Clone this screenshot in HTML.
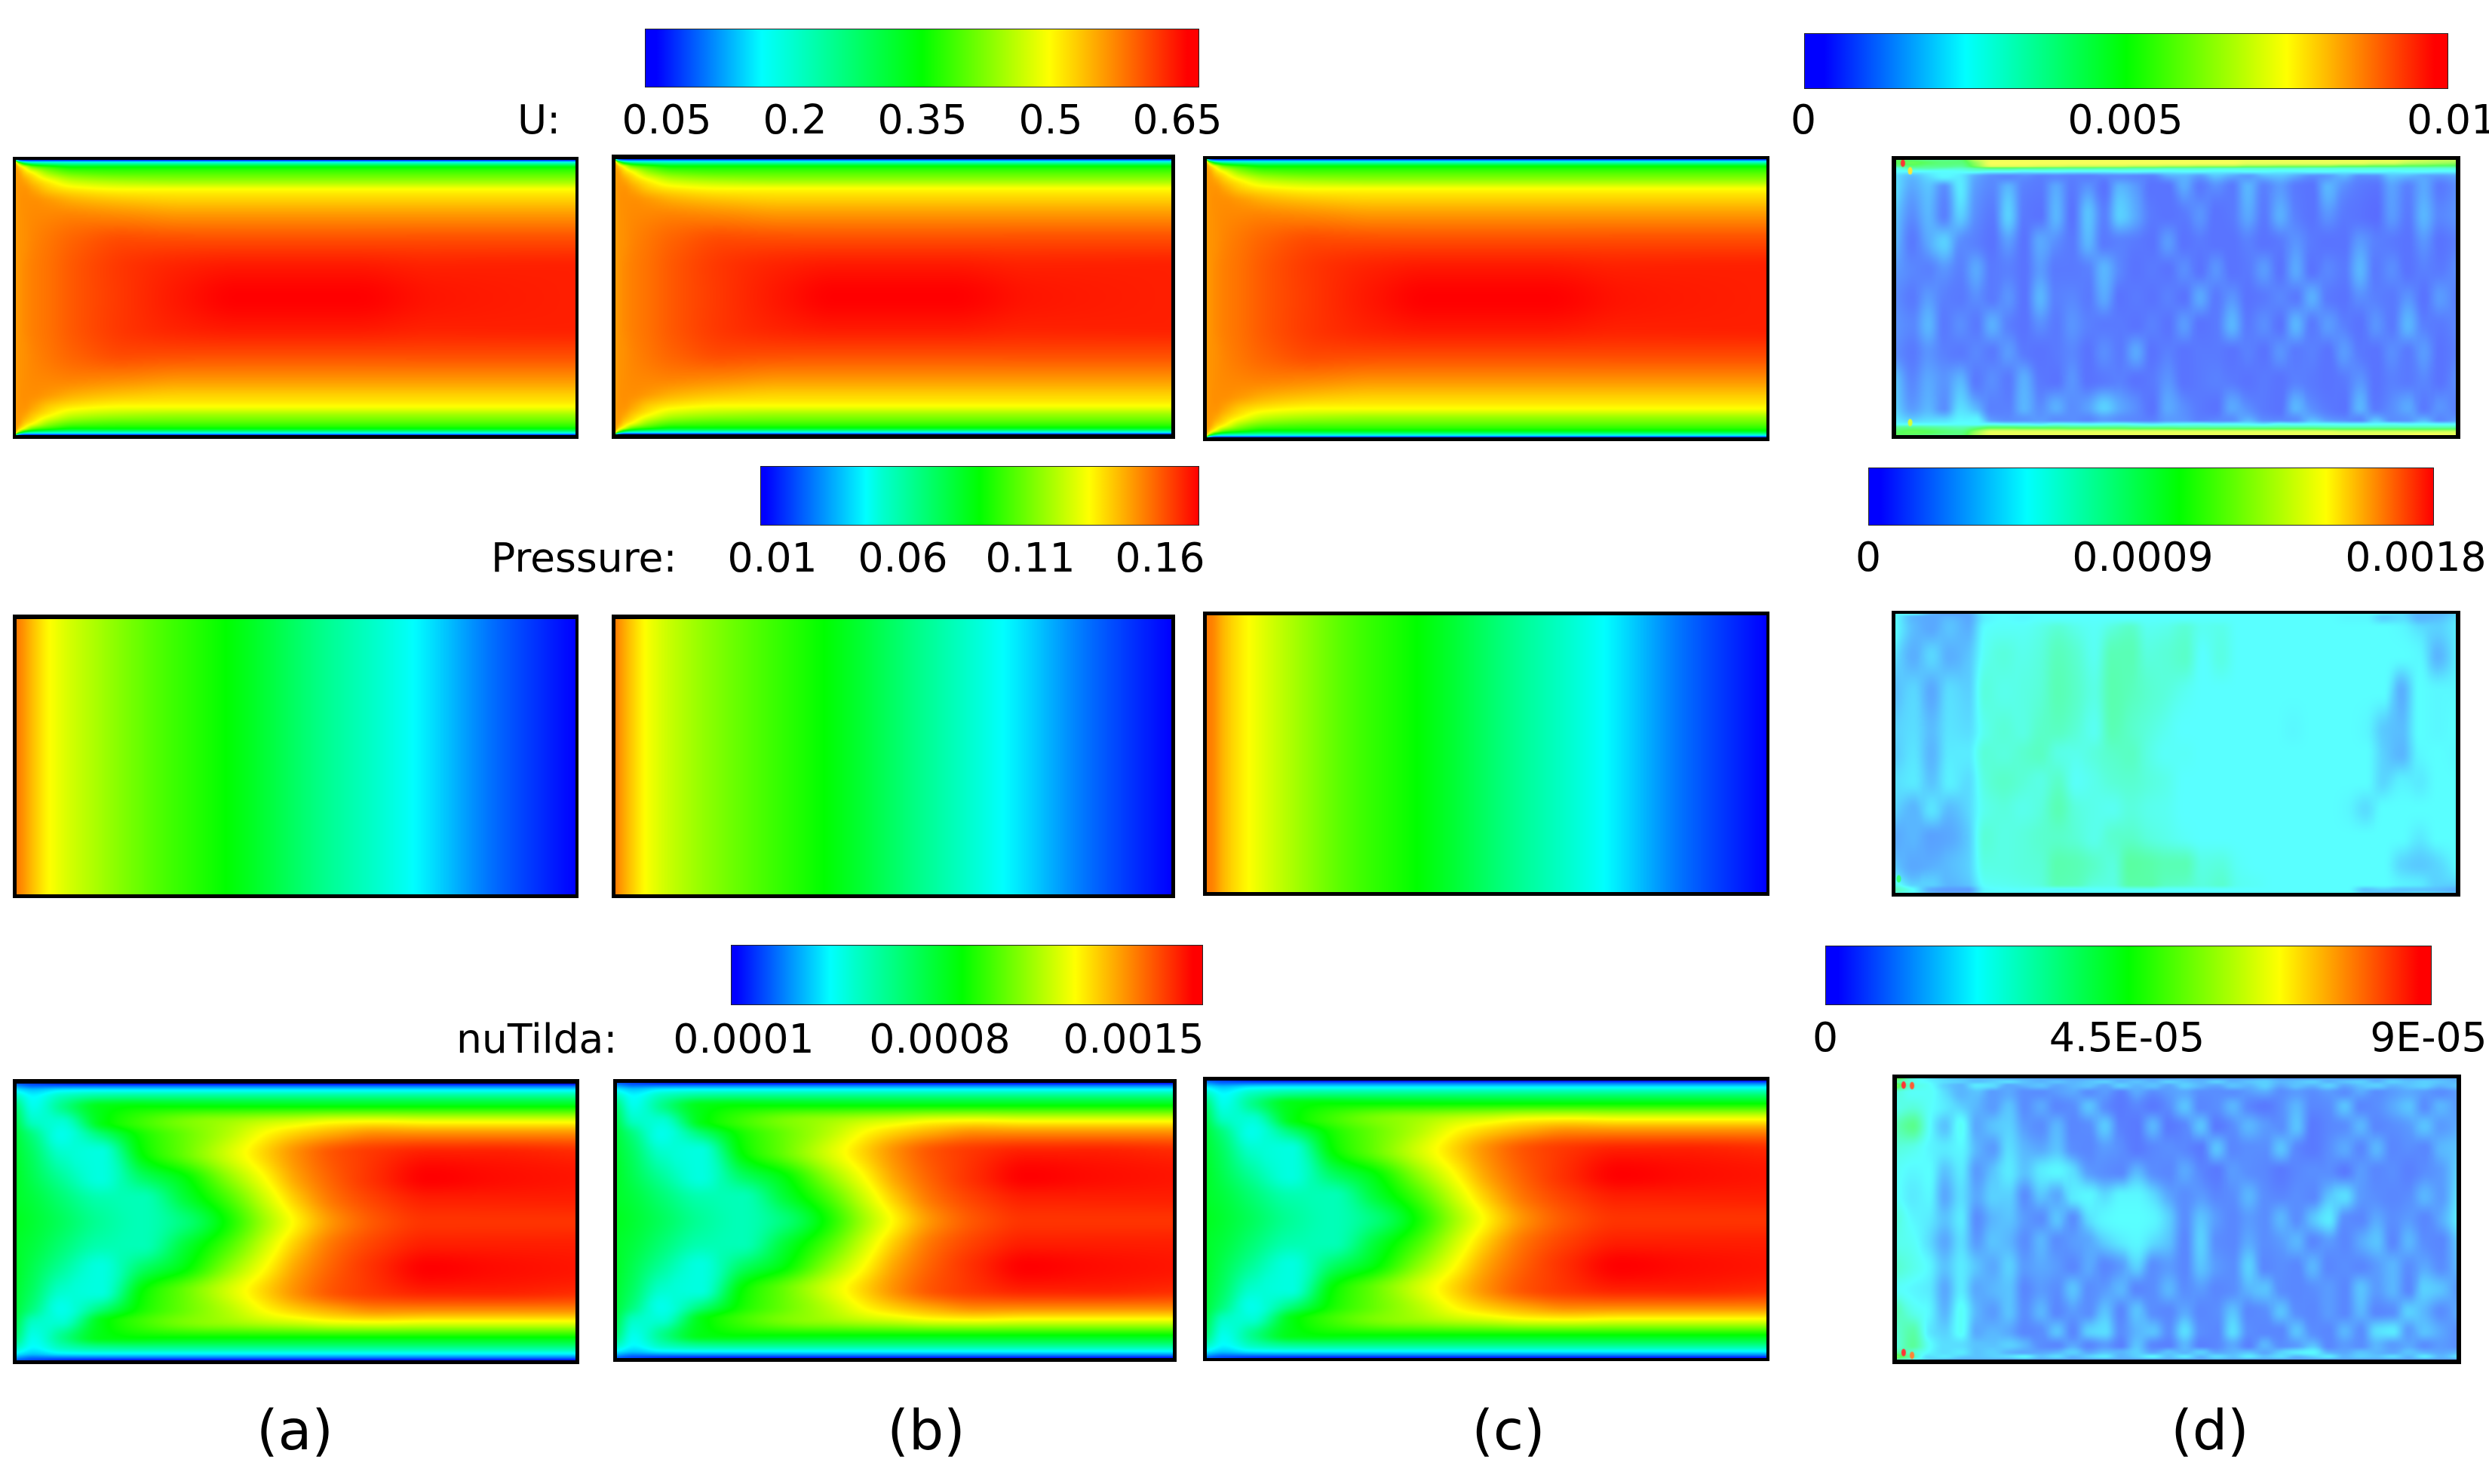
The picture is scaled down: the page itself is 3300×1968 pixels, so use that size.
<!DOCTYPE html>
<html lang="en">
<head>
<meta charset="utf-8">
<title>Flow field comparison: U, Pressure, nuTilda</title>
<style>
html,body{margin:0;padding:0;background:#fff;}
body{position:relative;width:3300px;height:1968px;overflow:hidden;}
canvas{position:absolute;display:block;border:0 solid #000;box-sizing:content-box;}
.bar{position:absolute;box-sizing:border-box;border:1px solid #222;}
svg{position:absolute;left:0;top:0;}
text{font-family:"DejaVu Sans","Liberation Sans",sans-serif;font-size:53.5px;fill:#000;}
.cap{font-size:73px;}
</style>
</head>
<body>

<!-- colour bars -->
<div class="bar" style="left:855px;top:38px;width:735px;height:78px;background:linear-gradient(90deg,#00f 2%,#00ffff 21%,#00ffcc 27%,#0f0 50%,#ff0 73%,#f00 98%)"></div>
<div class="bar" style="left:2392px;top:44px;width:854px;height:74px;background:linear-gradient(90deg,#00f 3%,#00ffff 25%,#0f0 50%,#ff0 75%,#f00 98%)"></div>
<div class="bar" style="left:1008px;top:618px;width:582px;height:79px;background:linear-gradient(90deg,#00f 1%,#00ffff 24%,#00ffcc 28%,#0f0 50%,#ff0 75%,#f00 100%)"></div>
<div class="bar" style="left:2477px;top:620px;width:750px;height:77px;background:linear-gradient(90deg,#00f 2%,#00ffff 28%,#0f0 55%,#ff0 81%,#f00 100%)"></div>
<div class="bar" style="left:969px;top:1253px;width:626px;height:80px;background:linear-gradient(90deg,#00f 1%,#00ffff 21%,#00ffcc 26%,#0f0 49%,#ff0 73%,#f00 98%)"></div>
<div class="bar" style="left:2420px;top:1254px;width:804px;height:79px;background:linear-gradient(90deg,#00f 2%,#00ffff 25%,#0f0 50%,#ff0 75%,#f00 98%)"></div>

<!-- row 1: U -->
<canvas id="u-a" width="742" height="365" style="left:17px;top:208px;border-width:4px 4px 5px 4px"></canvas>
<canvas id="u-b" width="737" height="365" style="left:811px;top:205px;border-width:6px 5px 6px 5px"></canvas>
<canvas id="u-c" width="742" height="369" style="left:1595px;top:207px;border-width:4px 4px 5px 5px"></canvas>
<canvas id="u-d" width="742" height="365" style="left:2508px;top:207px;border-width:5px 6px 5px 6px"></canvas>

<!-- row 2: Pressure -->
<canvas id="p-a" width="741" height="365" style="left:17px;top:815px;border-width:6px 4px 5px 5px"></canvas>
<canvas id="p-b" width="737" height="365" style="left:811px;top:815px;border-width:6px 5px 5px 5px"></canvas>
<canvas id="p-c" width="742" height="367" style="left:1595px;top:811px;border-width:5px 4px 5px 5px"></canvas>
<canvas id="p-d" width="743" height="370" style="left:2508px;top:810px;border-width:4px 6px 5px 5px"></canvas>

<!-- row 3: nuTilda -->
<canvas id="n-a" width="741" height="367" style="left:17px;top:1431px;border-width:6px 5px 5px 5px"></canvas>
<canvas id="n-b" width="737" height="365" style="left:813px;top:1431px;border-width:5px 5px 5px 5px"></canvas>
<canvas id="n-c" width="742" height="368" style="left:1595px;top:1428px;border-width:5px 4px 4px 5px"></canvas>
<canvas id="n-d" width="742" height="373" style="left:2509px;top:1425px;border-width:5px 6px 6px 6px"></canvas>

<svg width="3300" height="1968" viewBox="0 0 3300 1968">
  <text x="686" y="177">U:</text>
  <text x="884" y="177" text-anchor="middle">0.05</text>
  <text x="1054" y="177" text-anchor="middle">0.2</text>
  <text x="1223" y="177" text-anchor="middle">0.35</text>
  <text x="1393" y="177" text-anchor="middle">0.5</text>
  <text x="1561" y="177" text-anchor="middle">0.65</text>
  <text x="2391" y="177" text-anchor="middle">0</text>
  <text x="2818" y="177" text-anchor="middle">0.005</text>
  <text x="3191" y="177">0.01</text>

  <text x="651" y="758">Pressure:</text>
  <text x="1024" y="758" text-anchor="middle">0.01</text>
  <text x="1197" y="758" text-anchor="middle">0.06</text>
  <text x="1366" y="758" text-anchor="middle">0.11</text>
  <text x="1538" y="758" text-anchor="middle">0.16</text>
  <text x="2477" y="757" text-anchor="middle">0</text>
  <text x="2841" y="757" text-anchor="middle">0.0009</text>
  <text x="3203" y="757" text-anchor="middle">0.0018</text>

  <text x="605" y="1396">nuTilda:</text>
  <text x="986" y="1396" text-anchor="middle">0.0001</text>
  <text x="1246" y="1396" text-anchor="middle">0.0008</text>
  <text x="1503" y="1396" text-anchor="middle">0.0015</text>
  <text x="2420" y="1394" text-anchor="middle">0</text>
  <text x="2820" y="1394" text-anchor="middle">4.5E-05</text>
  <text x="3220" y="1394" text-anchor="middle">9E-05</text>

  <text class="cap" x="391" y="1922" text-anchor="middle">(a)</text>
  <text class="cap" x="1228" y="1922" text-anchor="middle">(b)</text>
  <text class="cap" x="2000" y="1922" text-anchor="middle">(c)</text>
  <text class="cap" x="2930" y="1922" text-anchor="middle">(d)</text>
</svg>

<script>
// Colour scale: fraction of the bar -> colour
const scaleStops = [0, 0.25, 0.5, 0.75, 1];
const scaleColors = [[0,0,255],[0,255,255],[0,255,0],[255,255,0],[255,0,0]];

// U: channel coordinates (x along channel, y across, both 0..1); values are fractions of the U colour bar
const uXs = [0,.006,.016,.03,.06,.105,.2,.3,.4,.5,.6,.75,1];
const uYs = [0,.004,.008,.015,.027,.05,.08,.108,.15,.21,.3,.4,.5,.6,.7,.79,.85,.895,.925,.955,.975,.987,.993,.997,1];
const uValues = [
[.3,.05,.02,0,0,0,0,0,0,0,0,0,0],
[.55,.2,.12,.12,.12,.12,.12,.12,.12,.12,.12,.12,.12],
[.75,.45,.3,.25,.25,.25,.25,.25,.25,.25,.25,.25,.25],
[.84,.68,.5,.42,.38,.36,.36,.36,.36,.36,.36,.36,.36],
[.85,.8,.73,.62,.55,.5,.5,.5,.5,.5,.5,.5,.5],
[.85,.84,.8,.76,.66,.6,.58,.58,.58,.58,.58,.58,.58],
[.85,.85,.84,.81,.76,.7,.67,.66,.66,.66,.66,.66,.66],
[.85,.855,.855,.84,.8,.77,.75,.75,.75,.75,.75,.75,.75],
[.85,.855,.86,.86,.85,.83,.81,.8,.8,.8,.8,.8,.8],
[.85,.855,.86,.865,.87,.875,.87,.86,.86,.86,.86,.86,.86],
[.85,.855,.86,.87,.885,.905,.93,.93,.93,.93,.93,.93,.93],
[.85,.855,.865,.875,.89,.915,.95,.97,.98,.98,.98,.97,.97],
[.85,.855,.865,.875,.89,.915,.95,.98,1,1,1,.98,.97],
[.85,.855,.865,.875,.89,.915,.95,.97,.98,.98,.98,.97,.97],
[.85,.855,.86,.87,.885,.905,.93,.93,.93,.93,.93,.93,.93],
[.85,.855,.86,.865,.87,.875,.87,.86,.86,.86,.86,.86,.86],
[.85,.855,.86,.86,.85,.83,.81,.8,.8,.8,.8,.8,.8],
[.85,.855,.855,.84,.8,.77,.75,.75,.75,.75,.75,.75,.75],
[.85,.85,.84,.81,.76,.7,.67,.66,.66,.66,.66,.66,.66],
[.85,.84,.8,.76,.66,.6,.58,.58,.58,.58,.58,.58,.58],
[.85,.8,.73,.62,.55,.5,.5,.5,.5,.5,.5,.5,.5],
[.84,.68,.5,.42,.38,.36,.36,.36,.36,.36,.36,.36,.36],
[.75,.45,.3,.25,.25,.25,.25,.25,.25,.25,.25,.25,.25],
[.55,.2,.12,.12,.12,.12,.12,.12,.12,.12,.12,.12,.12],
[.3,.05,.02,0,0,0,0,0,0,0,0,0,0]
];

// Pressure: values along x, fractions of the Pressure colour bar, one series per panel
const pXs = [0,.01,.03,.06,.15,.25,.375,.54,.71,.85,.97,1];
const pYs = [0,1];
const pressureA = [.88,.86,.81,.75,.66,.58,.5,.37,.25,.11,.02,0];
const pressureB = [.88,.85,.8,.74,.65,.58,.5,.37,.24,.11,.02,0];
const pressureC = [.88,.87,.82,.77,.67,.58,.5,.37,.25,.11,.02,0];

// nuTilda: values as fractions of the nuTilda colour bar
const nXs = [0,.03,.08,.15,.225,.3,.38,.45,.5,.57,.65,.74,.85,1];
const nYs = [0,.008,.025,.05,.083,.14,.185,.25,.34,.42,.5,.58,.667,.75,.815,.858,.917,.95,.975,.992,1];
const nuValues = [
[.08,.06,.03,.01,0,0,0,0,0,0,0,0,0,0],
[.14,.1,.1,.1,.1,.1,.1,.1,.1,.1,.1,.1,.1,.1],
[.24,.2,.24,.25,.25,.25,.25,.25,.25,.25,.25,.25,.25,.25],
[.32,.25,.32,.37,.38,.38,.38,.38,.38,.38,.38,.38,.38,.38],
[.38,.27,.36,.48,.5,.5,.5,.5,.5,.5,.5,.5,.5,.5],
[.42,.31,.29,.48,.56,.62,.66,.7,.72,.75,.76,.75,.75,.75],
[.44,.37,.27,.38,.52,.6,.68,.76,.8,.84,.87,.87,.87,.87],
[.45,.4,.3,.28,.5,.6,.71,.8,.86,.92,.95,.97,.97,.96],
[.46,.42,.35,.28,.4,.49,.64,.76,.84,.91,.96,1,.99,.98],
[.46,.44,.39,.33,.32,.44,.57,.71,.8,.89,.94,.97,.97,.97],
[.47,.45,.41,.35,.32,.38,.52,.67,.76,.86,.92,.95,.95,.95],
[.46,.44,.39,.33,.32,.44,.57,.71,.8,.89,.94,.97,.97,.97],
[.46,.42,.35,.28,.4,.49,.64,.76,.84,.91,.96,1,.99,.98],
[.45,.4,.3,.28,.5,.6,.71,.8,.86,.92,.95,.97,.97,.96],
[.44,.37,.27,.38,.52,.6,.68,.76,.8,.84,.87,.87,.87,.87],
[.42,.31,.29,.48,.56,.62,.66,.7,.72,.75,.76,.75,.75,.75],
[.38,.27,.36,.48,.5,.5,.5,.5,.5,.5,.5,.5,.5,.5],
[.32,.25,.32,.37,.38,.38,.38,.38,.38,.38,.38,.38,.38,.38],
[.24,.2,.24,.25,.25,.25,.25,.25,.25,.25,.25,.25,.25,.25],
[.14,.1,.1,.1,.1,.1,.1,.1,.1,.1,.1,.1,.1,.1],
[.08,.06,.03,.01,0,0,0,0,0,0,0,0,0,0]
];

// Error panels (d): percent of their colour bars, columns evenly spaced along x
const uErrYs = [0,.01,.024,.03,.042,.06,.1,.2,.3,.4,.5,.6,.7,.8,.9,.945,.96,.972,.99,1];
const uErrValues = [
[50,45,42,42,45,65,72,72,72,72,72,72,72,72,72,72,72,72,72,72,72,72,72,72,72,72,72,72,72,72,72,72,70,68,66,66],
[50,52,48,45,45,60,74,74,74,74,74,74,74,74,74,74,74,74,74,74,74,74,72,72,72,72,72,72,72,72,70,70,66,64,62,60],
[40,45,42,42,40,55,70,70,70,68,68,66,66,66,66,64,64,62,62,60,60,60,56,56,54,54,54,54,50,50,48,48,46,46,44,44],
[28,38,38,36,34,40,46,46,44,44,42,42,42,40,40,38,38,36,36,36,34,34,34,34,34,34,32,32,32,32,32,32,32,32,32,32],
[25,25,25,25,26,28,26,26,24,25,25,24,24,24,25,25,24,24,25,25,24,24,25,25,24,24,25,25,24,25,25,24,25,25,24,24],
[20,15,20,24,22,12,8,7,8,6,7,6,6,7,8,7,6,12,14,10,16,12,10,14,16,12,8,10,14,8,8,16,14,12,10,12],
[20,12,16,8,22,10,7,14,6,5,12,5,9,4,14,10,4,4,12,5,8,5,14,6,10,5,4,14,8,5,4,11,6,12,5,8],
[16,8,14,6,18,8,5,18,5,4,14,4,16,6,18,12,5,4,5,9,4,5,12,5,13,6,4,9,5,4,3,10,5,14,7,9],
[14,5,12,18,8,6,4,10,4,12,8,5,14,5,6,5,4,10,4,5,4,4,6,4,5,9,5,4,4,10,6,5,4,9,4,6],
[10,7,6,9,6,12,5,6,4,10,5,5,6,14,7,4,5,4,8,4,9,4,5,10,4,12,4,7,5,14,5,8,4,6,5,8],
[8,5,10,6,5,8,5,9,4,14,6,7,5,12,4,5,4,6,4,12,5,9,4,5,7,5,13,5,4,8,6,5,9,4,10,6],
[9,7,14,5,8,5,13,6,4,8,5,9,6,5,5,4,6,4,10,4,5,14,5,8,4,14,5,10,6,4,9,5,14,6,5,7],
[8,5,9,6,5,7,5,10,5,4,5,7,4,8,5,12,4,6,4,5,5,4,6,4,9,5,6,4,10,5,4,8,5,10,4,6],
[16,7,12,9,14,5,8,5,13,5,4,9,4,5,6,4,5,9,4,5,6,5,4,5,4,6,5,4,5,9,4,6,5,7,4,8],
[18,10,14,8,20,14,6,6,14,8,13,8,11,18,12,8,4,12,8,5,4,12,8,5,4,14,8,5,4,14,5,8,12,5,9,6],
[22,18,20,20,24,24,10,8,9,10,8,8,7,10,8,7,6,10,9,6,7,8,14,8,7,8,15,10,8,7,16,8,9,14,7,10],
[25,25,25,25,26,25,26,24,24,22,26,25,24,25,26,24,22,24,25,26,24,25,24,22,26,24,25,25,24,24,25,26,24,25,24,24],
[40,42,40,38,36,42,48,48,46,46,46,44,44,44,44,42,42,42,40,40,40,40,40,40,40,40,40,38,38,38,38,38,38,38,38,38],
[48,52,50,46,44,60,72,72,72,72,72,72,72,72,72,72,72,72,72,72,72,72,72,72,72,72,72,72,70,70,70,70,70,70,70,70],
[50,46,44,42,44,62,72,72,72,72,72,72,72,72,72,72,72,72,72,72,72,72,72,72,72,72,72,72,72,72,72,72,74,76,74,72]
];
const uErrHot = [[.012,.012,1],[.025,.04,.78],[.025,.955,.7]];

const pErrYs = [0,.012,.05,.15,.28,.42,.5,.6,.7,.8,.9,.97,.99,1];
const pErrValues = [
[25,24,14,11,12,24,25,25,25,25,25,25,25,25,25,25,25,25,25,25,25,25,25,25,25,25,25,22,20,14,14,18],
[25,14,12,14,12,23,25,24,25,25,25,25,25,25,25,25,25,25,25,25,25,25,25,25,25,24,24,18,20,14,15,20],
[25,15,12,16,13,25,26,26,28,31,28,26,30,33,27,28,31,27,28,25,25,25,25,25,25,25,25,25,24,20,18,22],
[20,13,19,13,16,27,30,28,30,35,32,27,36,36,30,31,33,25,29,25,25,25,25,25,25,25,25,25,25,24,14,22],
[15,19,12,20,18,30,28,29,31,36,33,29,37,35,32,30,27,25,25,25,25,25,25,25,25,25,25,25,13,25,24,24],
[18,20,15,21,20,28,31,29,33,34,31,27,36,33,30,27,25,25,25,25,25,25,24,25,25,25,24,17,15,25,24,25],
[17,21,14,22,22,31,30,32,34,29,28,30,33,34,29,26,26,25,25,25,25,25,25,25,25,25,25,18,14,24,25,24],
[20,22,16,23,20,30,33,31,29,33,26,28,31,32,30,28,25,25,25,25,25,25,25,25,25,25,25,19,23,22,25,25],
[18,14,21,15,19,28,30,28,30,36,30,28,27,30,28,27,25,25,25,25,25,25,25,25,25,24,20,25,25,25,25,25],
[12,14,11,12,17,31,29,30,32,33,31,28,32,33,30,28,26,25,25,25,25,25,25,25,25,25,25,25,25,22,25,25],
[16,12,13,15,18,29,29,30,31,37,36,33,30,39,38,36,36,29,30,26,25,25,25,25,25,25,25,25,19,17,19,24],
[28,18,18,14,16,26,27,28,30,36,35,30,29,38,38,34,33,30,32,27,26,25,25,25,25,25,25,25,23,22,18,18],
[36,25,12,10,10,24,25,25,25,24,24,25,25,26,26,25,25,25,25,25,25,25,25,25,25,25,16,18,16,16,15,13],
[30,24,14,12,12,24,25,24,25,25,25,25,25,25,25,25,25,25,25,25,25,25,25,25,25,25,18,16,18,20,18,16]
];
const pErrHot = [[.006,.95,.42]];

const nErrYs = [0,.012,.025,.05,.1,.17,.25,.33,.42,.5,.58,.67,.75,.83,.9,.95,.975,.99,1];
const nErrValues = [
[55,30,22,18,16,14,14,12,12,12,10,10,10,10,12,10,10,10,12,10,10,10,10,12,10,10,10,12,10,10,10,12,10,10,12,12],
[40,28,24,20,18,16,18,20,16,14,16,14,16,18,14,16,14,18,16,14,18,14,16,18,14,16,18,14,16,18,14,18,16,18,16,14],
[55,30,26,18,14,22,20,12,14,16,12,14,16,12,18,14,16,12,18,14,12,16,14,18,12,16,14,18,12,16,18,14,16,18,14,16],
[30,26,26,20,14,16,10,12,8,8,10,12,8,10,6,12,8,10,12,8,8,8,10,12,8,10,8,10,8,12,8,10,12,10,8,10],
[28,30,26,22,18,14,10,16,8,12,7,8,16,8,5,7,5,8,16,7,8,14,7,5,8,14,7,8,16,7,8,12,16,8,14,10],
[36,42,26,16,26,12,16,18,10,8,14,7,8,17,6,5,14,5,7,16,5,8,14,10,8,16,5,7,8,14,7,8,10,16,10,12],
[30,28,24,22,24,14,10,20,14,12,16,8,7,10,8,5,7,8,7,5,16,7,8,8,16,7,5,8,12,7,14,7,8,7,14,16],
[26,24,25,16,22,10,16,22,16,22,24,20,10,8,7,14,8,7,12,7,5,10,8,7,5,7,8,8,5,10,7,8,6,8,10,18],
[26,22,24,12,20,12,18,18,8,16,12,22,24,20,24,24,20,12,8,10,7,8,14,8,7,8,7,16,20,10,8,7,8,14,10,20],
[30,24,22,16,22,8,14,16,10,8,16,8,20,24,25,25,24,18,8,16,10,7,10,8,14,8,16,22,8,7,12,8,10,7,12,22],
[28,26,20,12,20,10,16,14,8,14,8,10,12,18,22,24,20,16,7,18,8,7,12,8,10,14,7,10,7,12,16,7,14,8,7,16],
[32,28,24,16,22,16,12,18,10,12,10,7,12,7,10,18,8,10,7,16,10,8,18,7,8,7,14,7,8,7,10,14,8,12,8,14],
[26,24,22,12,22,12,14,16,7,10,8,16,8,10,14,7,8,14,8,10,7,8,14,16,8,7,8,10,7,16,10,14,7,18,16,10],
[36,28,24,14,26,14,10,16,8,14,7,10,8,16,7,16,8,7,12,7,8,16,7,8,16,8,7,10,7,14,7,8,18,14,8,12],
[32,38,22,18,26,12,14,12,7,8,16,7,18,20,8,14,16,8,20,8,7,20,8,7,7,16,8,7,14,8,20,22,10,16,12,8],
[30,40,26,20,20,16,16,18,14,8,7,12,7,10,6,16,7,6,14,6,7,12,6,14,8,10,16,7,10,8,14,10,12,8,10,8],
[40,32,24,20,22,16,18,14,12,12,14,18,12,16,14,18,12,16,14,18,12,14,16,12,18,22,24,14,12,16,14,12,16,14,12,14],
[55,36,20,22,18,16,18,20,24,16,20,14,18,22,14,18,24,16,22,14,20,16,22,16,20,14,18,22,14,18,16,20,14,22,14,20],
[34,26,18,14,12,12,12,10,12,10,10,10,10,10,10,10,10,10,10,10,12,10,10,10,10,10,10,10,10,10,10,10,10,10,10,10]
];
const nErrHot = [[.012,.024,1],[.027,.026,.95],[.012,.975,1],[.027,.985,.9]];

function bracket(stations, v) {
  let i = 0;
  while (i < stations.length - 2 && stations[i + 1] < v) i++;
  return [i, Math.min(1, Math.max(0, (v - stations[i]) / (stations[i + 1] - stations[i])))];
}
function scaleColor(t) {
  const v = Math.min(1, Math.max(0, t));
  const [i, f] = bracket(scaleStops, v);
  return [0, 1, 2].map(c => scaleColors[i][c] + (scaleColors[i + 1][c] - scaleColors[i][c]) * f);
}
function evenStations(n) {
  const s = [];
  for (let i = 0; i < n; i++) s.push(i / (n - 1));
  return s;
}
// Monotone cubic resampling of one row or column of read-off values onto canvas pixels
function slopes(xs, vs) {
  const n = xs.length, h = [], d = [], m = new Array(n);
  for (let k = 0; k < n - 1; k++) { h.push(xs[k + 1] - xs[k]); d.push((vs[k + 1] - vs[k]) / h[k]); }
  m[0] = d[0]; m[n - 1] = d[n - 2];
  for (let k = 1; k < n - 1; k++) {
    if (d[k - 1] * d[k] <= 0) { m[k] = 0; continue; }
    const w1 = 2 * h[k] + h[k - 1], w2 = h[k] + 2 * h[k - 1];
    m[k] = (w1 + w2) / (w1 / d[k - 1] + w2 / d[k]);
  }
  return m;
}
function resample(xs, vs, brackets) {
  const m = slopes(xs, vs), out = new Float64Array(brackets.length);
  for (let p = 0; p < brackets.length; p++) {
    const i = brackets[p][0], f = brackets[p][1], h = xs[i + 1] - xs[i];
    const f2 = f * f, f3 = f2 * f;
    out[p] = (2 * f3 - 3 * f2 + 1) * vs[i] + (f3 - 2 * f2 + f) * h * m[i] + (-2 * f3 + 3 * f2) * vs[i + 1] + (f3 - f2) * h * m[i + 1];
  }
  return out;
}
function drawField(id, xs, ys, rows, opts) {
  const cv = document.getElementById(id);
  const W = cv.width, H = cv.height;
  const ctx = cv.getContext('2d');
  const img = ctx.createImageData(W, H);
  const alpha = opts.alpha, div = opts.div;
  const xScale = px => (px + 0.5) / W;
  const yScale = py => (py + 0.5) / H;
  const xB = [], yB = [];
  for (let px = 0; px < W; px++) xB.push(bracket(xs, xScale(px)));
  for (let py = 0; py < H; py++) yB.push(bracket(ys, yScale(py)));
  const rowPx = rows.map(r => resample(xs, r, xB));
  for (let px = 0; px < W; px++) {
    const col = resample(ys, rowPx.map(r => r[px]), yB);
    for (let py = 0; py < H; py++) {
      const c = scaleColor(col[py] / div);
      const o = (py * W + px) * 4;
      img.data[o] = c[0] * alpha + 255 * (1 - alpha);
      img.data[o + 1] = c[1] * alpha + 255 * (1 - alpha);
      img.data[o + 2] = c[2] * alpha + 255 * (1 - alpha);
      img.data[o + 3] = 255;
    }
  }
  ctx.putImageData(img, 0, 0);
  (opts.hot || []).forEach(h => {
    const c = scaleColor(h[2]);
    ctx.fillStyle = 'rgb(' + c.map(v => Math.round(v * .8 + 255 * .2)).join(',') + ')';
    ctx.beginPath();
    ctx.ellipse(h[0] * W, h[1] * H, 3, 5, 0, 0, Math.PI * 2);
    ctx.fill();
  });
}

const solid = {alpha: 1, div: 1};
['u-a', 'u-b', 'u-c'].forEach(id => drawField(id, uXs, uYs, uValues, solid));
drawField('p-a', pXs, pYs, [pressureA, pressureA], solid);
drawField('p-b', pXs, pYs, [pressureB, pressureB], solid);
drawField('p-c', pXs, pYs, [pressureC, pressureC], solid);
['n-a', 'n-b', 'n-c'].forEach(id => drawField(id, nXs, nYs, nuValues, solid));
drawField('u-d', evenStations(uErrValues[0].length), uErrYs, uErrValues, {alpha: .65, div: 100, hot: uErrHot});
drawField('p-d', evenStations(pErrValues[0].length), pErrYs, pErrValues, {alpha: .65, div: 100, hot: pErrHot});
drawField('n-d', evenStations(nErrValues[0].length), nErrYs, nErrValues, {alpha: .65, div: 100, hot: nErrHot});
</script>
</body>
</html>
